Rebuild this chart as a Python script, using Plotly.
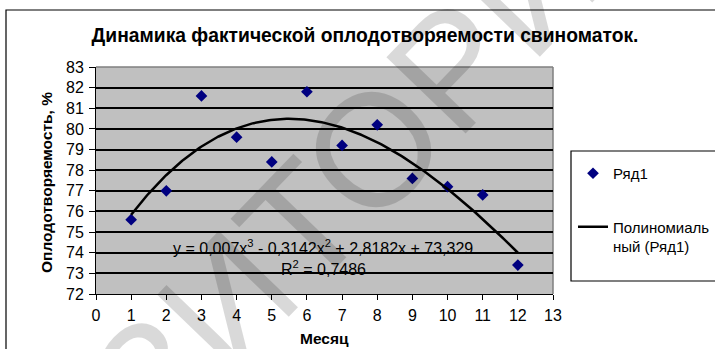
import numpy as np
import plotly.graph_objects as go

# ---- data ----
months = [1, 2, 3, 4, 5, 6, 7, 8, 9, 10, 11, 12]
fertility = [75.6, 77.0, 81.6, 79.6, 78.4, 81.8, 79.2, 80.2, 77.6, 77.2, 76.8, 73.4]
trend_coeffs = [0.007, -0.3142, 2.8182, 73.329]   # cubic trendline shown on the chart
x_ticks = list(range(0, 14))
y_ticks = list(range(72, 84))
title_text = "Динамика фактической оплодотворяемости свиноматок."
x_title = "Месяц"
y_title = "Оплодотворяемость, %"
series_name = "Ряд1"
trend_name = "Полиномиаль<br>ный (Ряд1)"
eq_text = "y = 0,007x<sup>3</sup> - 0,3142x<sup>2</sup> + 2,8182x + 73,329"
r2_text = "R<sup>2</sup> = 0,7486"

# ---- geometry helpers ----
W, H = 715, 349
L, R, T, B = 96, 553, 67, 294
def px(x):
    return (x - L) / (R - L)
def py(y):
    return (B - y) / (B - T)

FONT = "Liberation Sans, Arial, sans-serif"

xs = np.linspace(months[0], months[-1], 200)
ys = np.polyval(trend_coeffs, xs)

fig = go.Figure()
fig.add_trace(go.Scatter(
    x=months, y=fertility, mode="markers", name=series_name,
    marker=dict(symbol="diamond", size=9, color="#000080", line=dict(width=0)),
    legendgroup="a"))
fig.add_trace(go.Scatter(
    x=xs, y=ys, mode="lines", name=trend_name,
    line=dict(color="black", width=2.5), legendgroup="b"))

shapes = [
    # outer chart border
    dict(type="rect", xref="paper", yref="paper", x0=px(6), x1=px(730), y0=py(370), y1=py(10),
         line=dict(color="black", width=1.2), fillcolor="rgba(0,0,0,0)", layer="below"),
    # plot-area border (top/right grey)
    dict(type="line", xref="paper", yref="paper", x0=0, x1=1, y0=1, y1=1,
         line=dict(color="#7f7f7f", width=1.5), layer="between"),
    dict(type="line", xref="paper", yref="paper", x0=1, x1=1, y0=0, y1=1,
         line=dict(color="#7f7f7f", width=1.5), layer="between"),
    # legend box
    dict(type="rect", xref="paper", yref="paper", x0=px(571), x1=px(740), y0=py(281), y1=py(151),
         line=dict(color="black", width=1.2), fillcolor="white", layer="below"),
]

annotations = [
    dict(text=eq_text, xref="x", yref="y", x=6.46, y=74.28, showarrow=False,
         xanchor="center", yanchor="middle",
         font=dict(family=FONT, size=16, color="black")),
    dict(text=r2_text, xref="x", yref="y", x=6.46, y=73.26, showarrow=False,
         xanchor="center", yanchor="middle",
         font=dict(family=FONT, size=16, color="black")),
    dict(text="<b>" + x_title + "</b>", xref="paper", yref="paper", x=px(324), y=py(338),
         xanchor="center", yanchor="middle",
         showarrow=False, font=dict(family=FONT, size=15.5, color="black")),
    dict(text="<b>" + y_title + "</b>", xref="paper", yref="paper", x=px(46), y=py(183),
         xanchor="center", yanchor="middle",
         showarrow=False, textangle=-90, font=dict(family=FONT, size=15.5, color="black")),
    # watermark
    dict(text="ЗИТОРИ", xref="paper", yref="paper", x=px(345), y=py(178), showarrow=False,
         xanchor="center", yanchor="middle",
         textangle=-46, font=dict(family=FONT, size=160, color="rgba(0,0,0,0.15)")),
]

fig.update_layout(
    width=W, height=H,
    margin=dict(l=L, r=W - R, t=T, b=H - B, pad=0, autoexpand=False),
    paper_bgcolor="white", plot_bgcolor="#c0c0c0",
    font=dict(family=FONT, size=16, color="black"),
    title=dict(text="<b>" + title_text + "</b>", x=365 / W, y=1 - 35 / H,
               xanchor="center", yanchor="middle", xref="container", yref="container",
               font=dict(family=FONT, size=19.3, color="black")),
    xaxis=dict(range=[0, 13], tickvals=x_ticks, ticks="outside", ticklen=5, tickcolor="black",
               showline=True, linecolor="black", linewidth=1, showgrid=False, zeroline=False,
               ticklabelstandoff=2,
               tickfont=dict(family=FONT, size=16, color="black")),
    yaxis=dict(range=[72, 83], tickvals=y_ticks, ticks="outside", ticklen=6, tickcolor="black",
               showline=True, linecolor="black", linewidth=1, showgrid=True, gridcolor="black",
               gridwidth=1.6, zeroline=False, ticklabelstandoff=2,
               tickfont=dict(family=FONT, size=16, color="black")),
    showlegend=True,
    legend=dict(x=px(573), y=py(157), xanchor="left", yanchor="top", bgcolor="rgba(0,0,0,0)",
                borderwidth=0, font=dict(family=FONT, size=15, color="black"),
                tracegroupgap=31, valign="top", traceorder="grouped"),
    shapes=shapes, annotations=annotations,
)

fig.write_html("out.html", config={"displayModeBar": False},
               post_script="document.body.style.margin='0';document.body.style.padding='0';")
